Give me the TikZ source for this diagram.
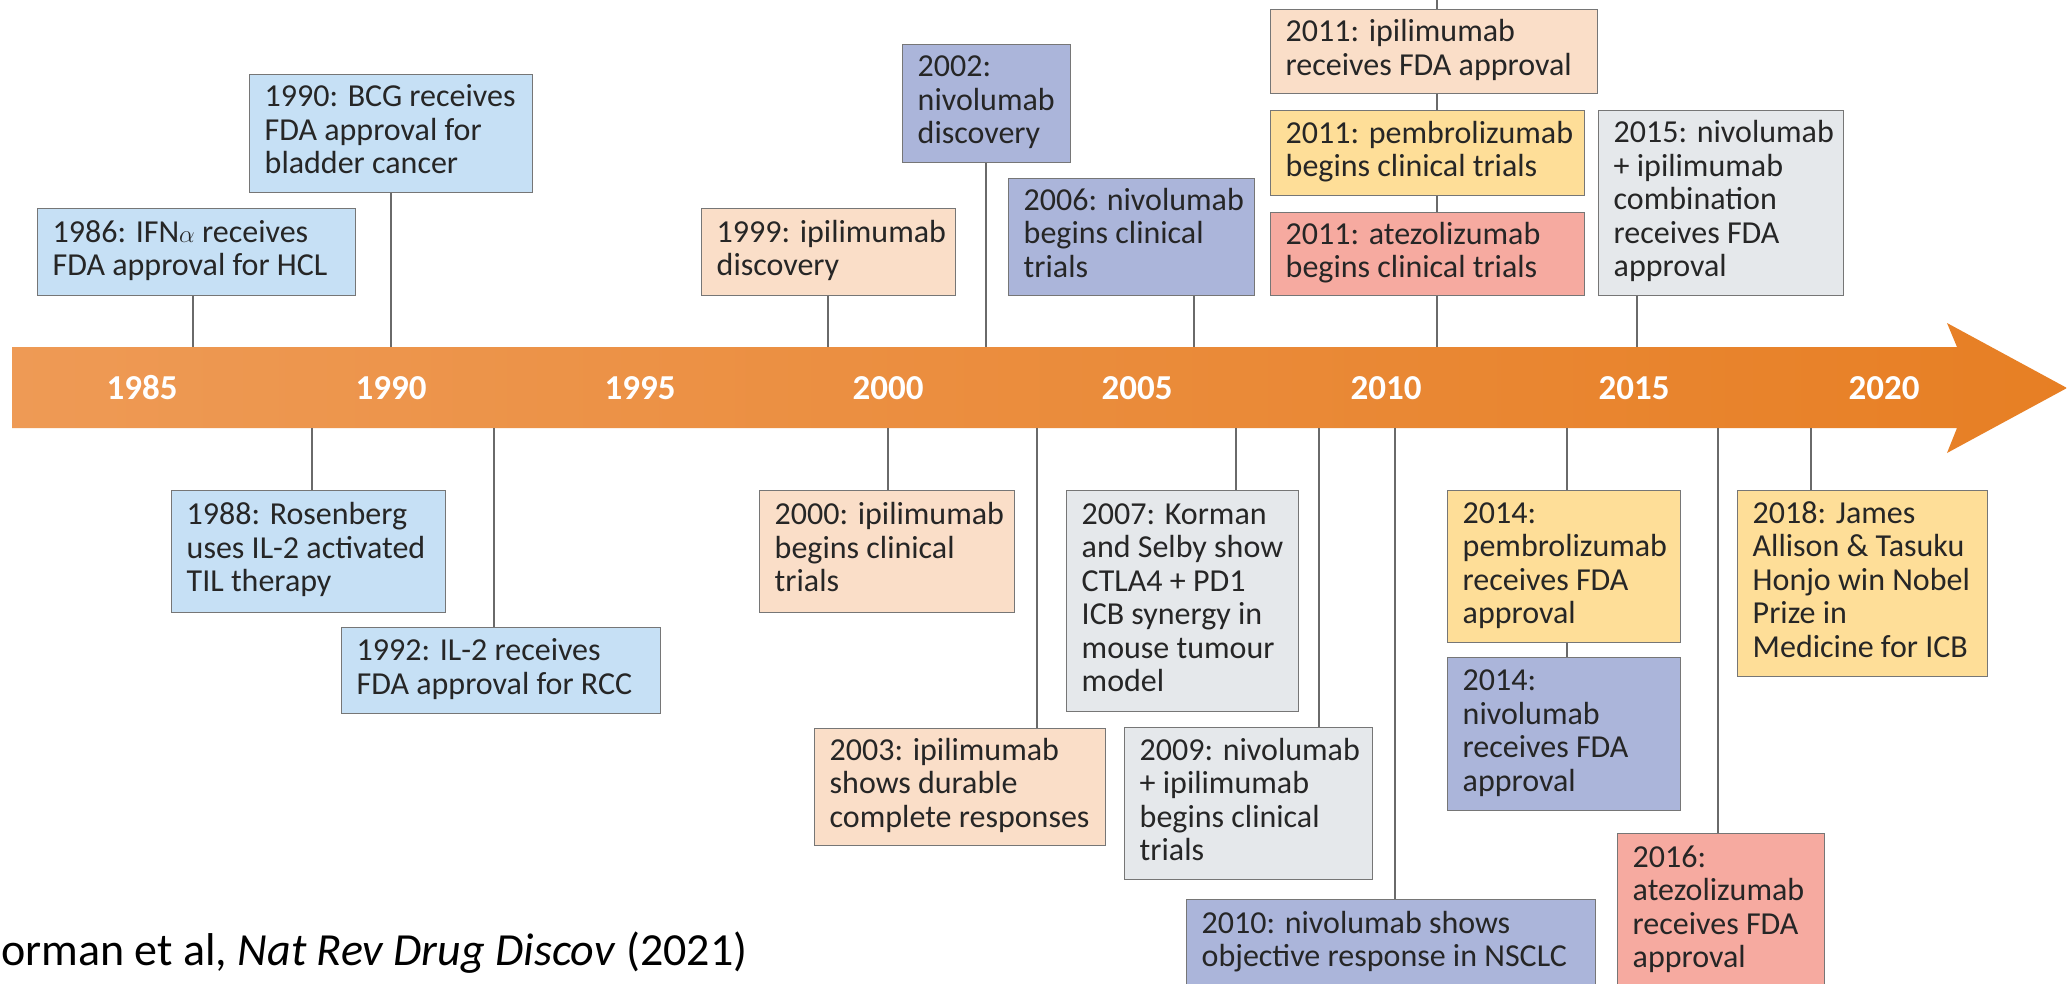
\documentclass[tikz,border=0pt]{standalone}
\usepackage{fontspec}
\setmainfont{Carlito}
\definecolor{cblue}{HTML}{C6E0F5}
\definecolor{cpeach}{HTML}{FADEC8}
\definecolor{cpurple}{HTML}{ABB5DA}
\definecolor{cyellow}{HTML}{FEDE98}
\definecolor{cred}{HTML}{F6AAA0}
\definecolor{cgrey}{HTML}{E5E8EB}
\definecolor{cborder}{HTML}{767676}
\definecolor{cline}{HTML}{6A6A6A}
\definecolor{ctext}{HTML}{262626}
\definecolor{barL}{HTML}{EE9A55}
\definecolor{barR}{HTML}{E77F24}
\newcommand\tlbox[7]{%
  \node[evbox, fill=#2, minimum width=#5pt, minimum height=#6pt] (#1) at (#3,#4)
    {\makebox[\dimexpr#5pt-30pt\relax][l]{\begin{tabular}{@{}l@{}}#7\end{tabular}}};}
\begin{document}
\begin{tikzpicture}[x=1pt,y=-1pt,
  evbox/.style={draw=cborder, line width=1.4pt, anchor=north west, inner xsep=15pt,
    inner ysep=0pt, text=ctext, font=\fontsize{32}{33.5}\selectfont},
  conn/.style={draw=cline, line width=1.3pt},
  yr/.style={text=white, inner sep=0pt, font=\fontsize{35}{40}\selectfont\bfseries}]
\fill[white] (0,0) rectangle (2067,983);
\useasboundingbox (0,0) rectangle (2067,983);
\clip (0,0) rectangle (2067,983);
% timeline arrow
\shade[left color=barL, right color=barR]
  (12,347) -- (1957,347) -- (1947,323) -- (2067,388) -- (1947,453) -- (1957,428) -- (12,428) -- cycle;
% year labels
\node[yr] (y1985) at (142,388) {1985};
\node[yr] (y1990) at (391,388) {1990};
\node[yr] (y1995) at (640,388) {1995};
\node[yr] (y2000) at (888,388) {2000};
\node[yr] (y2005) at (1137,388) {2005};
\node[yr] (y2010) at (1386,388) {2010};
\node[yr] (y2015) at (1634,388) {2015};
\node[yr] (y2020) at (1884,388) {2020};
% tick coordinates on the bar
\coordinate (b1986) at (193,347);
\coordinate (b1990) at (391,347);
\coordinate (b1999) at (828,347);
\coordinate (b2002) at (986,347);
\coordinate (b2006) at (1194,347);
\coordinate (b2011) at (1437,347);
\coordinate (b2015) at (1637,347);
\coordinate (b1988) at (312,428);
\coordinate (b1992) at (494,428);
\coordinate (b2000) at (888,428);
\coordinate (b2003) at (1037,428);
\coordinate (b2007) at (1236,428);
\coordinate (b2009) at (1319,428);
\coordinate (b2010) at (1395,428);
\coordinate (b2014) at (1567,428);
\coordinate (b2016) at (1718,428);
\coordinate (b2018) at (1811,428);
\coordinate (top2011) at (1437,0);
% boxes above
\tlbox{e1986}{cblue}{37}{208}{318}{87}{1986: IFN$\alpha$ receives\\FDA approval for HCL}
\tlbox{e1990}{cblue}{249}{74}{283}{118}{1990: BCG receives\\FDA approval for\\bladder cancer}
\tlbox{e1999}{cpeach}{701}{208}{254}{87}{1999: ipilimumab\\discovery}
\tlbox{e2002}{cpurple}{902}{44}{168}{118}{2002:\\nivolumab\\discovery}
\tlbox{e2006}{cpurple}{1008}{178}{246}{117}{2006: nivolumab\\begins clinical\\trials}
\tlbox{e2011i}{cpeach}{1270}{9}{327}{84}{2011: ipilimumab\\receives FDA approval}
\tlbox{e2011p}{cyellow}{1270}{110}{314}{85}{2011: pembrolizumab\\begins clinical trials}
\tlbox{e2011a}{cred}{1270}{212}{314}{83}{2011: atezolizumab\\begins clinical trials}
\tlbox{e2015}{cgrey}{1598}{110}{245}{185}{2015: nivolumab\\+ ipilimumab\\combination\\receives FDA\\approval}
% boxes below
\tlbox{e1988}{cblue}{171}{490}{274}{122}{1988: Rosenberg\\uses IL-2 activated\\TIL therapy}
\tlbox{e1992}{cblue}{341}{627}{319}{86}{1992: IL-2 receives\\FDA approval for RCC}
\tlbox{e2000}{cpeach}{759}{490}{255}{122}{2000: ipilimumab\\begins clinical\\trials}
\tlbox{e2003}{cpeach}{814}{728}{291}{117}{2003: ipilimumab\\shows durable\\complete responses}
\tlbox{e2007}{cgrey}{1066}{490}{232}{221}{2007: Korman\\and Selby show\\CTLA4 + PD1\\ICB synergy in\\mouse tumour\\model}
\tlbox{e2009}{cgrey}{1124}{727}{248}{152}{2009: nivolumab\\+ ipilimumab\\begins clinical\\trials}
\tlbox{e2010}{cpurple}{1186}{899}{409}{87}{2010: nivolumab shows\\objective response in NSCLC}
\tlbox{e2014p}{cyellow}{1447}{490}{233}{152}{2014:\\pembrolizumab\\receives FDA\\approval}
\tlbox{e2014n}{cpurple}{1447}{657}{233}{153}{2014:\\nivolumab\\receives FDA\\approval}
\tlbox{e2016}{cred}{1617}{833}{207}{154}{2016:\\atezolizumab\\receives FDA\\approval}
\tlbox{e2018}{cyellow}{1737}{490}{250}{186}{2018: James\\Allison \& Tasuku\\Honjo win Nobel\\Prize in\\Medicine for ICB}
% connectors above
\draw[conn] (e1986.south -| b1986) -- (b1986);
\draw[conn] (e1990.south -| b1990) -- (b1990);
\draw[conn] (e1999.south -| b1999) -- (b1999);
\draw[conn] (e2002.south -| b2002) -- (b2002);
\draw[conn] (e2006.south -| b2006) -- (b2006);
\draw[conn] (top2011) -- (e2011i.north -| top2011);
\draw[conn] (e2011i.south -| top2011) -- (e2011p.north -| top2011);
\draw[conn] (e2011p.south -| top2011) -- (e2011a.north -| top2011);
\draw[conn] (e2011a.south -| b2011) -- (b2011);
\draw[conn] (e2015.south -| b2015) -- (b2015);
% connectors below
\draw[conn] (b1988) -- (e1988.north -| b1988);
\draw[conn] (b1992) -- (e1992.north -| b1992);
\draw[conn] (b2000) -- (e2000.north -| b2000);
\draw[conn] (b2003) -- (e2003.north -| b2003);
\draw[conn] (b2007) -- (e2007.north -| b2007);
\draw[conn] (b2009) -- (e2009.north -| b2009);
\draw[conn] (b2010) -- (e2010.north -| b2010);
\draw[conn] (b2014) -- (e2014p.north -| b2014);
\draw[conn] (e2014p.south -| b2014) -- (e2014n.north -| b2014);
\draw[conn] (b2016) -- (e2016.north -| b2016);
\draw[conn] (b2018) -- (e2018.north -| b2018);
% citation
\node[anchor=base west, inner sep=0pt, text=black, font=\fontsize{46}{50}\selectfont] (cite) at (1,965)
  {orman et al, \textit{Nat Rev Drug Discov} (2021)};
\end{tikzpicture}
\end{document}
